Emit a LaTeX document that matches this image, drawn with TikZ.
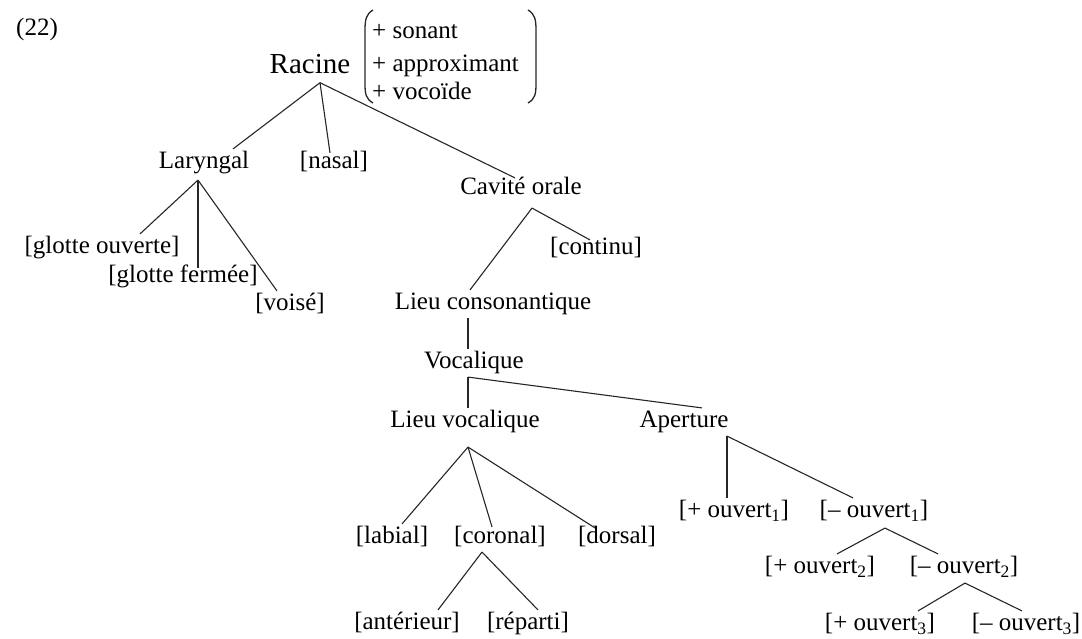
\documentclass[tikz,border=0pt]{standalone}
\usepackage{fontspec}
\setmainfont{Liberation Serif}
\begin{document}
\begin{tikzpicture}[x=1pt,y=-1pt,
  lbl/.style={font=\fontsize{25}{30}\selectfont, inner sep=2pt, text height=17.5pt, text depth=6.25pt},
  big/.style={font=\fontsize{29}{34}\selectfont, inner sep=2pt, text height=20pt, text depth=7pt},
  edge/.style={line width=1.1pt, black!85},
  paren/.style={line width=1.3pt, black!85}]
\useasboundingbox (0,0) rectangle (1082,639);
% title and root
\node[lbl, anchor=west] (num) at (14,30) {(22)};
\node[big] (rac) at (310,67) {Racine};
\node[lbl, anchor=west] (f1) at (370,33) {+ sonant};
\node[lbl, anchor=west] (f2) at (370,66) {+ approximant};
\node[lbl, anchor=west] (f3) at (370,94) {+ vocoïde};
\draw[paren] (373,10) .. controls (366,14) and (365,20) .. (365,30) -- (365,84) .. controls (365,94) and (366,99) .. (373,103);
\draw[paren] (528,10) .. controls (535,14) and (536,20) .. (536,30) -- (536,84) .. controls (536,94) and (535,99) .. (528,103);
% level 1
\node[lbl] (lar) at (204,163) {Laryngal};
\node[lbl] (nas) at (334,163) {[nasal]};
\node[lbl] (cav) at (521,189) {Cavité orale};
% laryngal children
\node[lbl] (go) at (102,248) {[glotte ouverte]};
\node[lbl] (gf) at (183,277) {[glotte fermée]};
\node[lbl] (vo) at (290,305) {[voisé]};
% cavite children
\node[lbl] (con) at (596,249) {[continu]};
\node[lbl] (lc) at (493,304) {Lieu consonantique};
\node[lbl] (voc) at (474,363) {Vocalique};
\node[lbl] (lv) at (465,422) {Lieu vocalique};
\node[lbl] (ap) at (684,422) {Aperture};
% lieu vocalique children
\node[lbl] (lab) at (392,538) {[labial]};
\node[lbl] (cor) at (500,538) {[coronal]};
\node[lbl] (dor) at (617,538) {[dorsal]};
\node[lbl] (ant) at (407,624) {[antérieur]};
\node[lbl] (rep) at (528,624) {[réparti]};
% aperture children
\node[lbl] (po1) at (734,512) {[+ ouvert\textsubscript{1}]};
\node[lbl] (mo1) at (874,512) {[– ouvert\textsubscript{1}]};
\node[lbl] (po2) at (820,568) {[+ ouvert\textsubscript{2}]};
\node[lbl] (mo2) at (964,568) {[– ouvert\textsubscript{2}]};
\node[lbl] (po3) at (880,625) {[+ ouvert\textsubscript{3}]};
\node[lbl] (mo3) at (1026,625) {[– ouvert\textsubscript{3}]};
% apexes
\coordinate (racA) at ([xshift=10pt]rac.south);
\coordinate (larA) at ([xshift=-6pt,yshift=-3pt]lar.south);
\coordinate (cavA) at ([xshift=11pt,yshift=-5pt]cav.south);
\coordinate (vocA) at ([xshift=-6pt]voc.south);
\coordinate (lvA) at ([xshift=3pt,yshift=-11pt]lv.south);
\coordinate (corA) at ([xshift=-18pt]cor.south);
\coordinate (apA) at ([xshift=43pt]ap.south);
\coordinate (mo1A) at ([xshift=11pt,yshift=-2pt]mo1.south);
\coordinate (mo2A) at ([xshift=1pt,yshift=-1pt]mo2.south);
% edges
\draw[edge] (racA) -- ([xshift=29pt]lar.north);
\draw[edge] (racA) -- ([xshift=-4pt,yshift=-4pt]nas.north);
\draw[edge] (racA) -- ([xshift=-6pt,yshift=-3pt]cav.north);
\draw[edge] (larA) -- ([xshift=38pt]go.north);
\draw[edge] (larA) -- ([xshift=15pt,yshift=-5pt]gf.north);
\draw[edge] (larA) -- ([xshift=-13pt]vo.north);
\draw[edge] (cavA) -- ([xshift=-6pt,yshift=-5pt]con.north);
\draw[edge] (cavA) -- ([xshift=-23pt]lc.north);
\draw[edge] ([xshift=-25pt]lc.south) -- ([xshift=-6pt]voc.north);
\draw[edge] (vocA) -- ([xshift=3pt]lv.north);
\draw[edge] (vocA) -- ([xshift=18pt]ap.north);
\draw[edge] (lvA) -- ([xshift=10pt]lab.north);
\draw[edge] (lvA) -- ([xshift=-8pt,yshift=-3pt]cor.north);
\draw[edge] (lvA) -- ([xshift=-22pt,yshift=-4pt]dor.north);
\draw[edge] (corA) -- ([xshift=31pt]ant.north);
\draw[edge] (corA) -- ([xshift=10pt]rep.north);
\draw[edge] (apA) -- ([xshift=-7pt]po1.north);
\draw[edge] (apA) -- ([xshift=-21pt]mo1.north);
\draw[edge] (mo1A) -- ([xshift=17pt]po2.north);
\draw[edge] (mo1A) -- ([xshift=-26pt]mo2.north);
\draw[edge] (mo2A) -- ([xshift=38pt]po3.north);
\draw[edge] (mo2A) -- ([xshift=-4pt]mo3.north);
\end{tikzpicture}
\end{document}
